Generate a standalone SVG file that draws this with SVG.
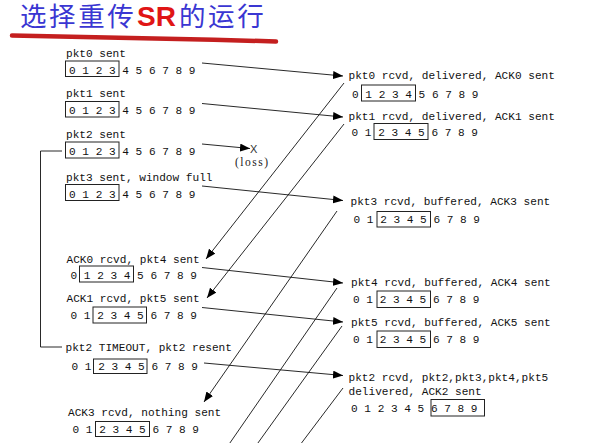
<svg xmlns="http://www.w3.org/2000/svg" width="614" height="443" viewBox="0 0 614 443">
<style>
.t{font-family:"Liberation Mono","DejaVu Sans Mono",monospace;font-size:11.1px;fill:#111}
.bx{fill:none;stroke:#222;stroke-width:1}
.ln{fill:none;stroke:#111;stroke-width:0.9}
.ttl{font-family:"Noto Sans CJK SC","Noto Sans",sans-serif;font-size:26.5px;fill:#3a36d2;letter-spacing:2.6px}
.sr{font-family:"Liberation Sans",Arial,sans-serif;font-weight:bold;font-size:28px;fill:#e01515}
</style>
<defs>
<marker id="ah" viewBox="0 0 10 8" refX="10" refY="4" markerWidth="10" markerHeight="8" markerUnits="userSpaceOnUse" orient="auto">
<path d="M0,0 L10,4 L0,8 Z" fill="#000"/>
</marker>
</defs>
<rect width="614" height="443" fill="#fff"/>

<g id="title">
<text class="ttl" x="20" y="26">选择重传</text>
<text class="sr" x="137" y="26">SR</text>
<text class="ttl" x="179" y="26">的运行</text>
<path d="M12,35.5 C70,36 180,38.5 276,41.5" fill="none" stroke="#c41f1f" stroke-width="4.5" stroke-linecap="round"/>
</g>

<g id="sender-pkt0">
<text class="t" x="66" y="56.5">pkt0 sent</text>
<text class="t" x="69" y="73.5">0 1 2 3 4 5 6 7 8 9</text>
<rect class="bx" x="65.5" y="61" width="53.5" height="15.5"/>
</g>
<g id="sender-pkt1">
<text class="t" x="66" y="97">pkt1 sent</text>
<text class="t" x="69" y="114">0 1 2 3 4 5 6 7 8 9</text>
<rect class="bx" x="65.5" y="101.5" width="53.5" height="15.5"/>
</g>
<g id="sender-pkt2">
<text class="t" x="66" y="137.5">pkt2 sent</text>
<text class="t" x="69" y="155">0 1 2 3 4 5 6 7 8 9</text>
<rect class="bx" x="65.5" y="142" width="53.5" height="16"/>
</g>
<g id="sender-pkt3">
<text class="t" x="66" y="180.5">pkt3 sent, window full</text>
<text class="t" x="69" y="197.5">0 1 2 3 4 5 6 7 8 9</text>
<rect class="bx" x="65.5" y="184.5" width="53.5" height="16"/>
</g>
<g id="sender-ack0">
<text class="t" x="66.5" y="262.5">ACK0 rcvd, pkt4 sent</text>
<text class="t" x="70.5" y="279">0 1 2 3 4 5 6 7 8 9</text>
<rect class="bx" x="79.5" y="266" width="54" height="16"/>
</g>
<g id="sender-ack1">
<text class="t" x="66.5" y="302">ACK1 rcvd, pkt5 sent</text>
<text class="t" x="70.5" y="318.5">0 1 2 3 4 5 6 7 8 9</text>
<rect class="bx" x="93" y="307" width="53.5" height="16"/>
</g>
<g id="sender-timeout">
<text class="t" x="65.5" y="351">pkt2 TIMEOUT, pkt2 resent</text>
<text class="t" x="71.5" y="370">0 1 2 3 4 5 6 7 8 9</text>
<rect class="bx" x="93.5" y="359" width="53.5" height="14.5"/>
</g>
<g id="sender-ack3">
<text class="t" x="68" y="416">ACK3 rcvd, nothing sent</text>
<text class="t" x="72.5" y="432.5">0 1 2 3 4 5 6 7 8 9</text>
<rect class="bx" x="95.5" y="421.5" width="54" height="15"/>
</g>

<g id="recv-pkt0">
<text class="t" x="348.5" y="79">pkt0 rcvd, delivered, ACK0 sent</text>
<text class="t" x="352" y="97.5">0 1 2 3 4 5 6 7 8 9</text>
<rect class="bx" x="361.5" y="85" width="54" height="16"/>
</g>
<g id="recv-pkt1">
<text class="t" x="348.5" y="119.5">pkt1 rcvd, delivered, ACK1 sent</text>
<text class="t" x="351.5" y="136">0 1 2 3 4 5 6 7 8 9</text>
<rect class="bx" x="374" y="123.5" width="54" height="16"/>
</g>
<g id="recv-pkt3">
<text class="t" x="350.5" y="205">pkt3 rcvd, buffered, ACK3 sent</text>
<text class="t" x="353.5" y="223">0 1 2 3 4 5 6 7 8 9</text>
<rect class="bx" x="377" y="211.5" width="53.5" height="15.5"/>
</g>
<g id="recv-pkt4">
<text class="t" x="351" y="286">pkt4 rcvd, buffered, ACK4 sent</text>
<text class="t" x="353" y="303">0 1 2 3 4 5 6 7 8 9</text>
<rect class="bx" x="377" y="291" width="53.5" height="16.5"/>
</g>
<g id="recv-pkt5">
<text class="t" x="351" y="326">pkt5 rcvd, buffered, ACK5 sent</text>
<text class="t" x="353" y="343">0 1 2 3 4 5 6 7 8 9</text>
<rect class="bx" x="377" y="331" width="53.5" height="16.5"/>
</g>
<g id="recv-pkt2">
<text class="t" x="348.5" y="381">pkt2 rcvd, pkt2,pkt3,pkt4,pkt5</text>
<text class="t" x="348.5" y="395">delivered, ACK2 sent</text>
<text class="t" x="351" y="412">0 1 2 3 4 5 6 7 8 9</text>
<rect class="bx" x="431" y="399.5" width="53.5" height="16.5"/>
</g>

<g id="loss">
<text x="250" y="153" style="font-family:'Liberation Sans',Arial,sans-serif;font-size:11px;fill:#333">X</text>
<text x="235" y="165.5" textLength="33" lengthAdjust="spacing" style="font-family:'Liberation Serif','Times New Roman',serif;font-size:11.5px;fill:#222">(loss)</text>
</g>

<g id="connectors">
<polyline class="ln" points="62,151 40.5,151 40.5,347 62,347"/>
<line class="ln" x1="202" y1="63" x2="343" y2="76" marker-end="url(#ah)"/>
<line class="ln" x1="202" y1="103.5" x2="343" y2="117" marker-end="url(#ah)"/>
<line class="ln" x1="202" y1="144" x2="250" y2="148.5" marker-end="url(#ah)"/>
<line class="ln" x1="202" y1="186" x2="343" y2="200.5" marker-end="url(#ah)"/>
<line class="ln" x1="202" y1="267.5" x2="343" y2="283" marker-end="url(#ah)"/>
<line class="ln" x1="202" y1="307.5" x2="343" y2="322" marker-end="url(#ah)"/>
<line class="ln" x1="204" y1="363" x2="343" y2="375.5" marker-end="url(#ah)"/>
<line class="ln" x1="344" y1="83" x2="206" y2="259" marker-end="url(#ah)"/>
<line class="ln" x1="344" y1="124" x2="207" y2="298" marker-end="url(#ah)"/>
<line class="ln" x1="337" y1="211" x2="204" y2="402" marker-end="url(#ah)"/>
<line class="ln" x1="337" y1="288" x2="228.5" y2="445"/>
<line class="ln" x1="342" y1="326" x2="256.5" y2="445"/>
<line class="ln" x1="343" y1="388" x2="300" y2="445"/>
</g>
</svg>
